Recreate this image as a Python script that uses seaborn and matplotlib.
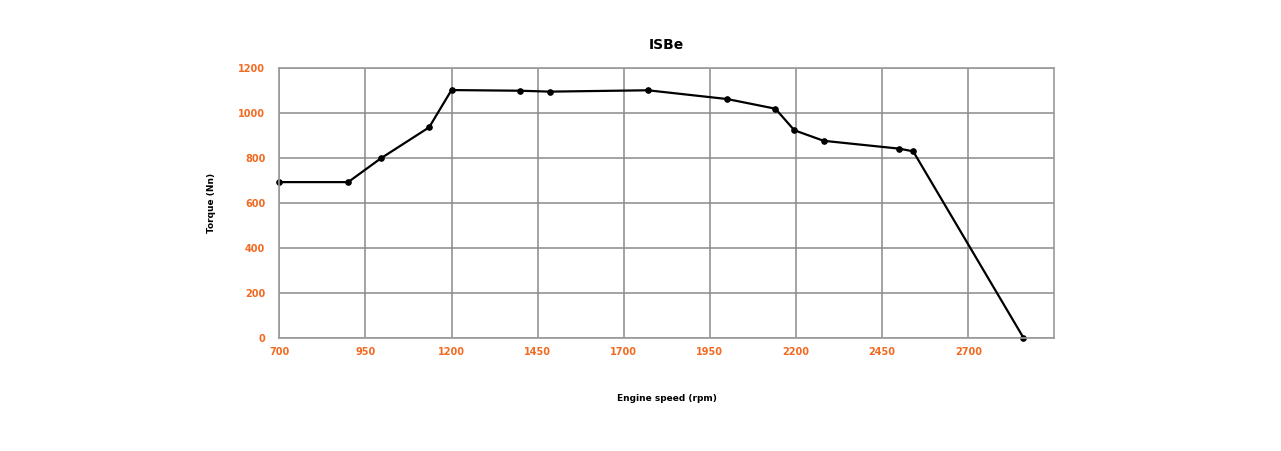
import pandas as pd
import matplotlib.pyplot as plt
import seaborn as sns

# Torque curve
rpm = [700, 900, 995, 1135, 1200, 1400, 1485, 1770, 2000, 2140, 2195, 2280, 2500, 2540, 2860]
torque = [693, 693, 799, 937, 1103, 1100, 1096, 1102, 1063, 1020, 924, 877, 842, 830, 0]
x_ticks = [700, 950, 1200, 1450, 1700, 1950, 2200, 2450, 2700]
y_ticks = [0, 200, 400, 600, 800, 1000, 1200]

df = pd.DataFrame({"rpm": rpm, "torque": torque})

sns.set_style("white")
plt.rcParams['font.family'] = ['DejaVu Sans']

orange = "#f26a21"

fig = plt.figure(figsize=(12.81, 4.51), dpi=100)
ax = fig.add_axes([0.218, 0.2512, 0.6046, 0.5974])

sns.lineplot(data=df, x="rpm", y="torque", ax=ax, color="black",
             linewidth=1.6, marker="o", markersize=4,
             markeredgecolor="black", markerfacecolor="black", clip_on=False)

ax.set_xlim(700, 2948)
ax.set_ylim(0, 1200)
ax.set_xticks(x_ticks)
ax.set_yticks(y_ticks)
ax.grid(True, color="#8a8a8a", linewidth=1.1)
ax.set_axisbelow(True)
for s in ax.spines.values():
    s.set_color("#9a9a9a")
    s.set_linewidth(1.2)

ax.tick_params(axis="both", length=0, labelsize=7, labelcolor=orange)
ax.tick_params(axis="x", pad=7)
ax.tick_params(axis="y", pad=10)
for lbl in ax.get_xticklabels() + ax.get_yticklabels():
    lbl.set_fontweight("bold")

ax.set_title("ISBe", fontsize=10, fontweight="bold", color="black", pad=14)
ax.set_xlabel("Engine speed (rpm)", fontsize=6.5, fontweight="bold", color="black", labelpad=26)
ax.set_ylabel("Torque (Nn)", fontsize=6.5, fontweight="bold", color="black", labelpad=16)

fig.savefig("out.png", dpi=100)
